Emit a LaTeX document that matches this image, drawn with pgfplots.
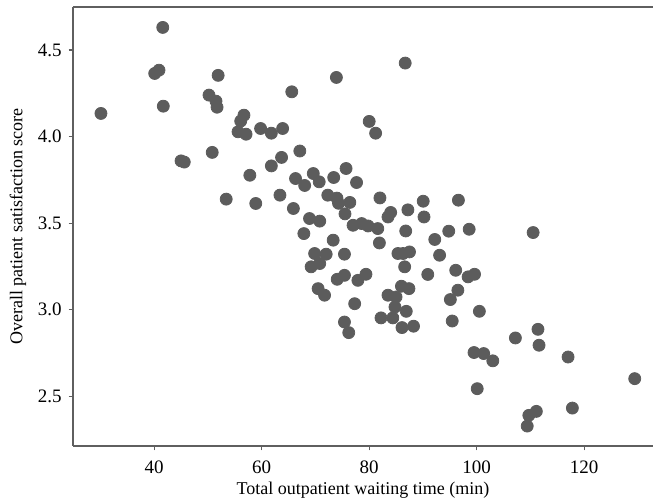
\documentclass[border=0pt]{standalone}
\usepackage{fontspec}
\setmainfont{Liberation Serif}
\usepackage{pgfplots}
\pgfplotsset{compat=1.18}
\definecolor{dotgray}{RGB}{92,92,92}
\definecolor{spine}{RGB}{95,95,95}
\begin{document}
\begin{tikzpicture}
\begin{axis}[
  scale only axis,
  width=290pt, height=219.5pt,
  xmin=24.9, xmax=132.8,
  ymin=2.213, ymax=4.749,
  axis x line*=box,
  axis y line*=left,
  axis line style={spine, line width=0.6pt, -},
  xtick={40,60,80,100,120},
  ytick={2.5,3.0,3.5,4.0,4.5},
  xtick pos=left, ytick pos=left,
  tick align=outside,
  major tick length=2.2pt,
  tick style={spine, line width=0.6pt},
  /pgf/number format/assume math mode=true,
  yticklabel style={/pgf/number format/.cd, fixed, fixed zerofill, precision=1},
  ticklabel style={font=\fontsize{9.5}{11}\selectfont, text=black},
  xticklabel style={yshift=-1.5pt},
  label style={font=\fontsize{9}{11}\selectfont},
  xlabel={Total outpatient waiting time (min)},
  ylabel={Overall patient satisfaction score},
  xlabel style={at={(rel axis cs:0.5,0)}, yshift=-22pt, anchor=center},
  ylabel style={at={(rel axis cs:0,0.5)}, yshift=27.5pt, anchor=center},
  clip=false,
]
\addplot[only marks, mark=*, mark size=3.0pt, mark options={fill=dotgray, draw=dotgray}] table {
x y
30.1 4.134
40.1 4.365
40.9 4.384
41.6 4.631
41.7 4.176
45.0 3.860
45.6 3.853
50.2 4.240
51.5 4.205
51.7 4.170
51.9 4.354
50.8 3.909
53.4 3.639
56.1 4.090
56.7 4.124
55.6 4.028
57.1 4.014
59.8 4.047
61.8 4.020
63.9 4.047
65.6 4.259
57.8 3.777
61.8 3.831
63.7 3.880
67.1 3.917
58.9 3.614
63.4 3.662
66.3 3.758
68.0 3.718
69.6 3.787
70.7 3.739
65.9 3.585
68.9 3.527
70.8 3.512
67.85 3.440
72.3 3.662
74.0 3.645
74.3 3.615
73.4 3.764
75.7 3.816
77.65 3.735
76.4 3.620
73.9 4.342
80.0 4.088
81.2 4.020
86.7 4.425
82.0 3.646
75.5 3.554
84.0 3.562
83.5 3.536
87.2 3.577
90.05 3.627
96.6 3.633
90.2 3.536
77.0 3.488
78.6 3.498
79.8 3.484
81.6 3.469
86.8 3.455
94.8 3.454
98.6 3.465
110.5 3.446
73.3 3.402
81.9 3.386
92.2 3.406
69.85 3.325
72.0 3.321
75.4 3.321
69.2 3.248
70.8 3.267
74.05 3.176
75.4 3.199
77.9 3.170
70.5 3.122
71.7 3.084
77.3 3.035
75.4 2.929
76.2 2.868
85.35 3.325
86.3 3.325
87.5 3.334
93.1 3.315
86.6 3.248
90.9 3.204
96.1 3.228
98.4 3.190
99.6 3.205
79.4 3.205
86.0 3.136
87.4 3.122
96.5 3.113
83.5 3.084
85.0 3.074
95.1 3.059
84.8 3.016
86.9 2.991
82.2 2.953
84.4 2.953
86.1 2.897
88.25 2.905
95.45 2.935
100.5 2.991
99.5 2.753
101.3 2.747
103.0 2.705
100.1 2.544
111.4 2.887
107.2 2.837
111.6 2.795
117.0 2.727
129.4 2.602
117.8 2.432
111.1 2.413
109.7 2.390
109.4 2.328
};
\coordinate (BL) at (rel axis cs:0,0);
\coordinate (TR) at (rel axis cs:1,1);
\end{axis}
\pgfresetboundingbox
\path[use as bounding box] (BL) ++(-36.5pt,-27.5pt) rectangle ([yshift=3.5pt]TR);
\end{tikzpicture}
\end{document}
